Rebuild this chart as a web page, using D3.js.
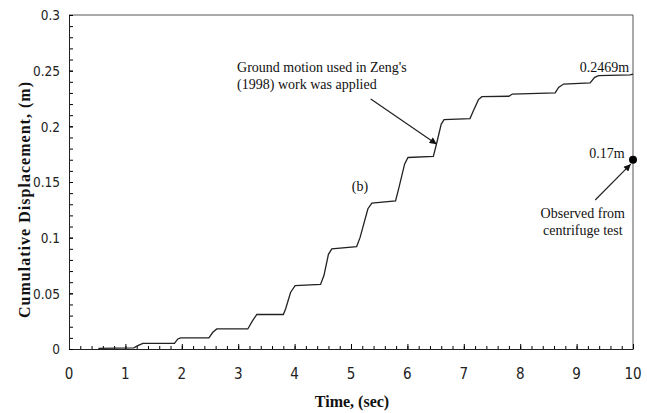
<!DOCTYPE html>
<html>
<head>
<meta charset="utf-8">
<script src="https://cdn.jsdelivr.net/npm/d3@7"></script>
<style>
  body { margin: 0; background: #fff; }
  svg { display: block; }
</style>
</head>
<body>
<svg id="graph"></svg>
<script>
// time (s) and cumulative displacement (m)
const time = [0.52, 1.15, 1.22, 1.31, 1.87, 1.93, 1.98, 2.48, 2.55, 2.62,
              3.17, 3.25, 3.33, 3.80, 3.84, 3.93, 4.01, 4.46, 4.52, 4.60,
              4.66, 5.10, 5.16, 5.30, 5.37, 5.79, 5.85, 5.95, 6.01, 6.46,
              6.52, 6.60, 6.65, 7.11, 7.17, 7.26, 7.32, 7.80, 7.86, 8.62,
              8.68, 8.77, 9.24, 9.32, 9.39, 9.95, 10.0];
const disp = [0.0005, 0.001, 0.003, 0.005, 0.005, 0.009, 0.010, 0.010, 0.015, 0.018,
              0.018, 0.025, 0.031, 0.031, 0.036, 0.051, 0.057, 0.058, 0.066, 0.085,
              0.090, 0.092, 0.100, 0.126, 0.131, 0.133, 0.145, 0.166, 0.172, 0.173,
              0.185, 0.202, 0.206, 0.207, 0.214, 0.224, 0.2266, 0.227, 0.229, 0.230,
              0.235, 0.238, 0.239, 0.244, 0.2455, 0.2462, 0.2469];

const xTicks = [0, 1, 2, 3, 4, 5, 6, 7, 8, 9, 10];
const yTicks = [0, 0.05, 0.1, 0.15, 0.2, 0.25, 0.3];
const yTickLabels = ["0", "0.05", "0.1", "0.15", "0.2", "0.25", "0.3"];

const observed = {t: 10, v: 0.17};

const WIDTH = 647;
const HEIGHT = 413;
const margin = {top: 15, right: 14, bottom: 64, left: 69};
const innerWidth = WIDTH - margin.left - margin.right;
const innerHeight = HEIGHT - margin.top - margin.bottom;

const tickFont = "'Liberation Sans Narrow', 'DejaVu Sans Condensed', 'Liberation Serif', serif";

let svg = d3.select("#graph")
    .attr("width", WIDTH)
    .attr("height", HEIGHT)
    .style("font-family", "'Liberation Serif', 'Times New Roman', serif");

svg.append("defs").append("marker")
    .attr("id", "head")
    .attr("viewBox", "0 0 10 10")
    .attr("refX", 10).attr("refY", 5)
    .attr("markerWidth", 9).attr("markerHeight", 7)
    .attr("markerUnits", "userSpaceOnUse")
    .attr("orient", "auto")
    .append("path")
    .attr("d", "M0,0 L10,5 L0,10 z")
    .attr("fill", "#111");

const graph = svg.append("g")
    .attr("transform", `translate(${margin.left},${margin.top})`);

const x = d3.scaleLinear().domain([0, 10]).range([0, innerWidth]);
const y = d3.scaleLinear().domain([0, 0.3]).range([innerHeight, 0]);

// frame (top / right)
graph.append("path")
    .attr("d", `M0,0 H${x(10)} V${y(0)}`)
    .attr("fill", "none")
    .attr("stroke", "#555")
    .attr("stroke-width", 1);

// minor ticks
graph.append("g")
    .attr("transform", `translate(0,${innerHeight})`)
    .call(d3.axisBottom(x).tickValues(d3.range(0, 10.001, 0.2)).tickSize(-3))
    .call(g => g.select(".domain").remove())
    .call(g => g.selectAll("text").remove());
graph.append("g")
    .call(d3.axisLeft(y).tickValues(d3.range(0, 0.3001, 0.01)).tickSize(-4))
    .call(g => g.select(".domain").remove())
    .call(g => g.selectAll("text").remove());

// major ticks + axis lines
graph.append("g")
    .attr("transform", `translate(0,${innerHeight})`)
    .call(d3.axisBottom(x).tickValues(xTicks).tickSizeInner(-5).tickSizeOuter(0))
    .call(g => g.select(".domain").attr("stroke", "#222"))
    .call(g => g.selectAll("text").remove());
graph.append("g")
    .call(d3.axisLeft(y).tickValues(yTicks).tickSizeInner(-4).tickSizeOuter(0))
    .call(g => g.select(".domain").attr("stroke", "#222"))
    .call(g => g.selectAll("text").remove());

// tick labels
graph.append("g")
    .selectAll("text")
    .data(xTicks)
    .join("text")
    .attr("x", d => x(d))
    .attr("y", innerHeight + 30)
    .attr("text-anchor", "middle")
    .attr("font-size", 15)
    .attr("font-family", tickFont)
    .attr("fill", "#222")
    .text(d => d);
graph.append("g")
    .selectAll("text")
    .data(yTicks)
    .join("text")
    .attr("x", -9)
    .attr("y", d => y(d))
    .attr("dy", "0.4em")
    .attr("text-anchor", "end")
    .attr("font-size", 13.5)
    .attr("font-family", tickFont)
    .attr("fill", "#222")
    .text((d, i) => yTickLabels[i]);

// curve
const line = d3.line()
    .x((d, i) => x(time[i]))
    .y(d => y(d));
graph.append("path")
    .datum(disp)
    .attr("fill", "none")
    .attr("stroke", "#222")
    .attr("stroke-width", 1.3)
    .attr("d", line);

// observed point
graph.append("circle")
    .attr("cx", x(observed.t))
    .attr("cy", y(observed.v))
    .attr("r", 4)
    .attr("fill", "#000");

// arrows
const arrows = [
    {t0: 5.35, v0: 0.2246, t1: 6.52, v1: 0.184},
    {t0: 9.33, v0: 0.1338, t1: 9.96, v1: 0.166}
];
graph.append("g")
    .selectAll("line")
    .data(arrows)
    .join("line")
    .attr("x1", d => x(d.t0)).attr("y1", d => y(d.v0))
    .attr("x2", d => x(d.t1)).attr("y2", d => y(d.v1))
    .attr("stroke", "#222")
    .attr("stroke-width", 1.2)
    .attr("marker-end", "url(#head)");

// notes
const notes = [
    {text: "Ground motion used in Zeng's", t: 2.98, v: 0.249, anchor: "start"},
    {text: "(1998) work was applied", t: 2.98, v: 0.2333, anchor: "start"},
    {text: "(b)", t: 5.16, v: 0.142, anchor: "middle"},
    {text: "0.2469m", t: 9.93, v: 0.249, anchor: "end"},
    {text: "0.17m", t: 9.85, v: 0.172, anchor: "end"},
    {text: "Observed from", t: 9.11, v: 0.1177, anchor: "middle"},
    {text: "centrifuge test", t: 9.11, v: 0.1024, anchor: "middle"}
];
graph.append("g")
    .selectAll("text")
    .data(notes)
    .join("text")
    .attr("x", d => x(d.t))
    .attr("y", d => y(d.v))
    .attr("text-anchor", d => d.anchor)
    .attr("font-size", 14)
    .attr("fill", "#111")
    .text(d => d.text);

// axis titles
svg.append("text")
    .attr("x", margin.left + innerWidth / 2 + 1)
    .attr("y", 407)
    .attr("text-anchor", "middle")
    .attr("font-weight", "bold")
    .attr("font-size", 16)
    .attr("fill", "#111")
    .text("Time, (sec)");

svg.append("text")
    .attr("transform", `translate(30,${margin.top + innerHeight / 2 + 18}) rotate(-90)`)
    .attr("text-anchor", "middle")
    .attr("font-weight", "bold")
    .attr("font-size", 16)
    .attr("textLength", 236)
    .attr("lengthAdjust", "spacing")
    .attr("fill", "#111")
    .text("Cumulative Displacement, (m)");
</script>
</body>
</html>
